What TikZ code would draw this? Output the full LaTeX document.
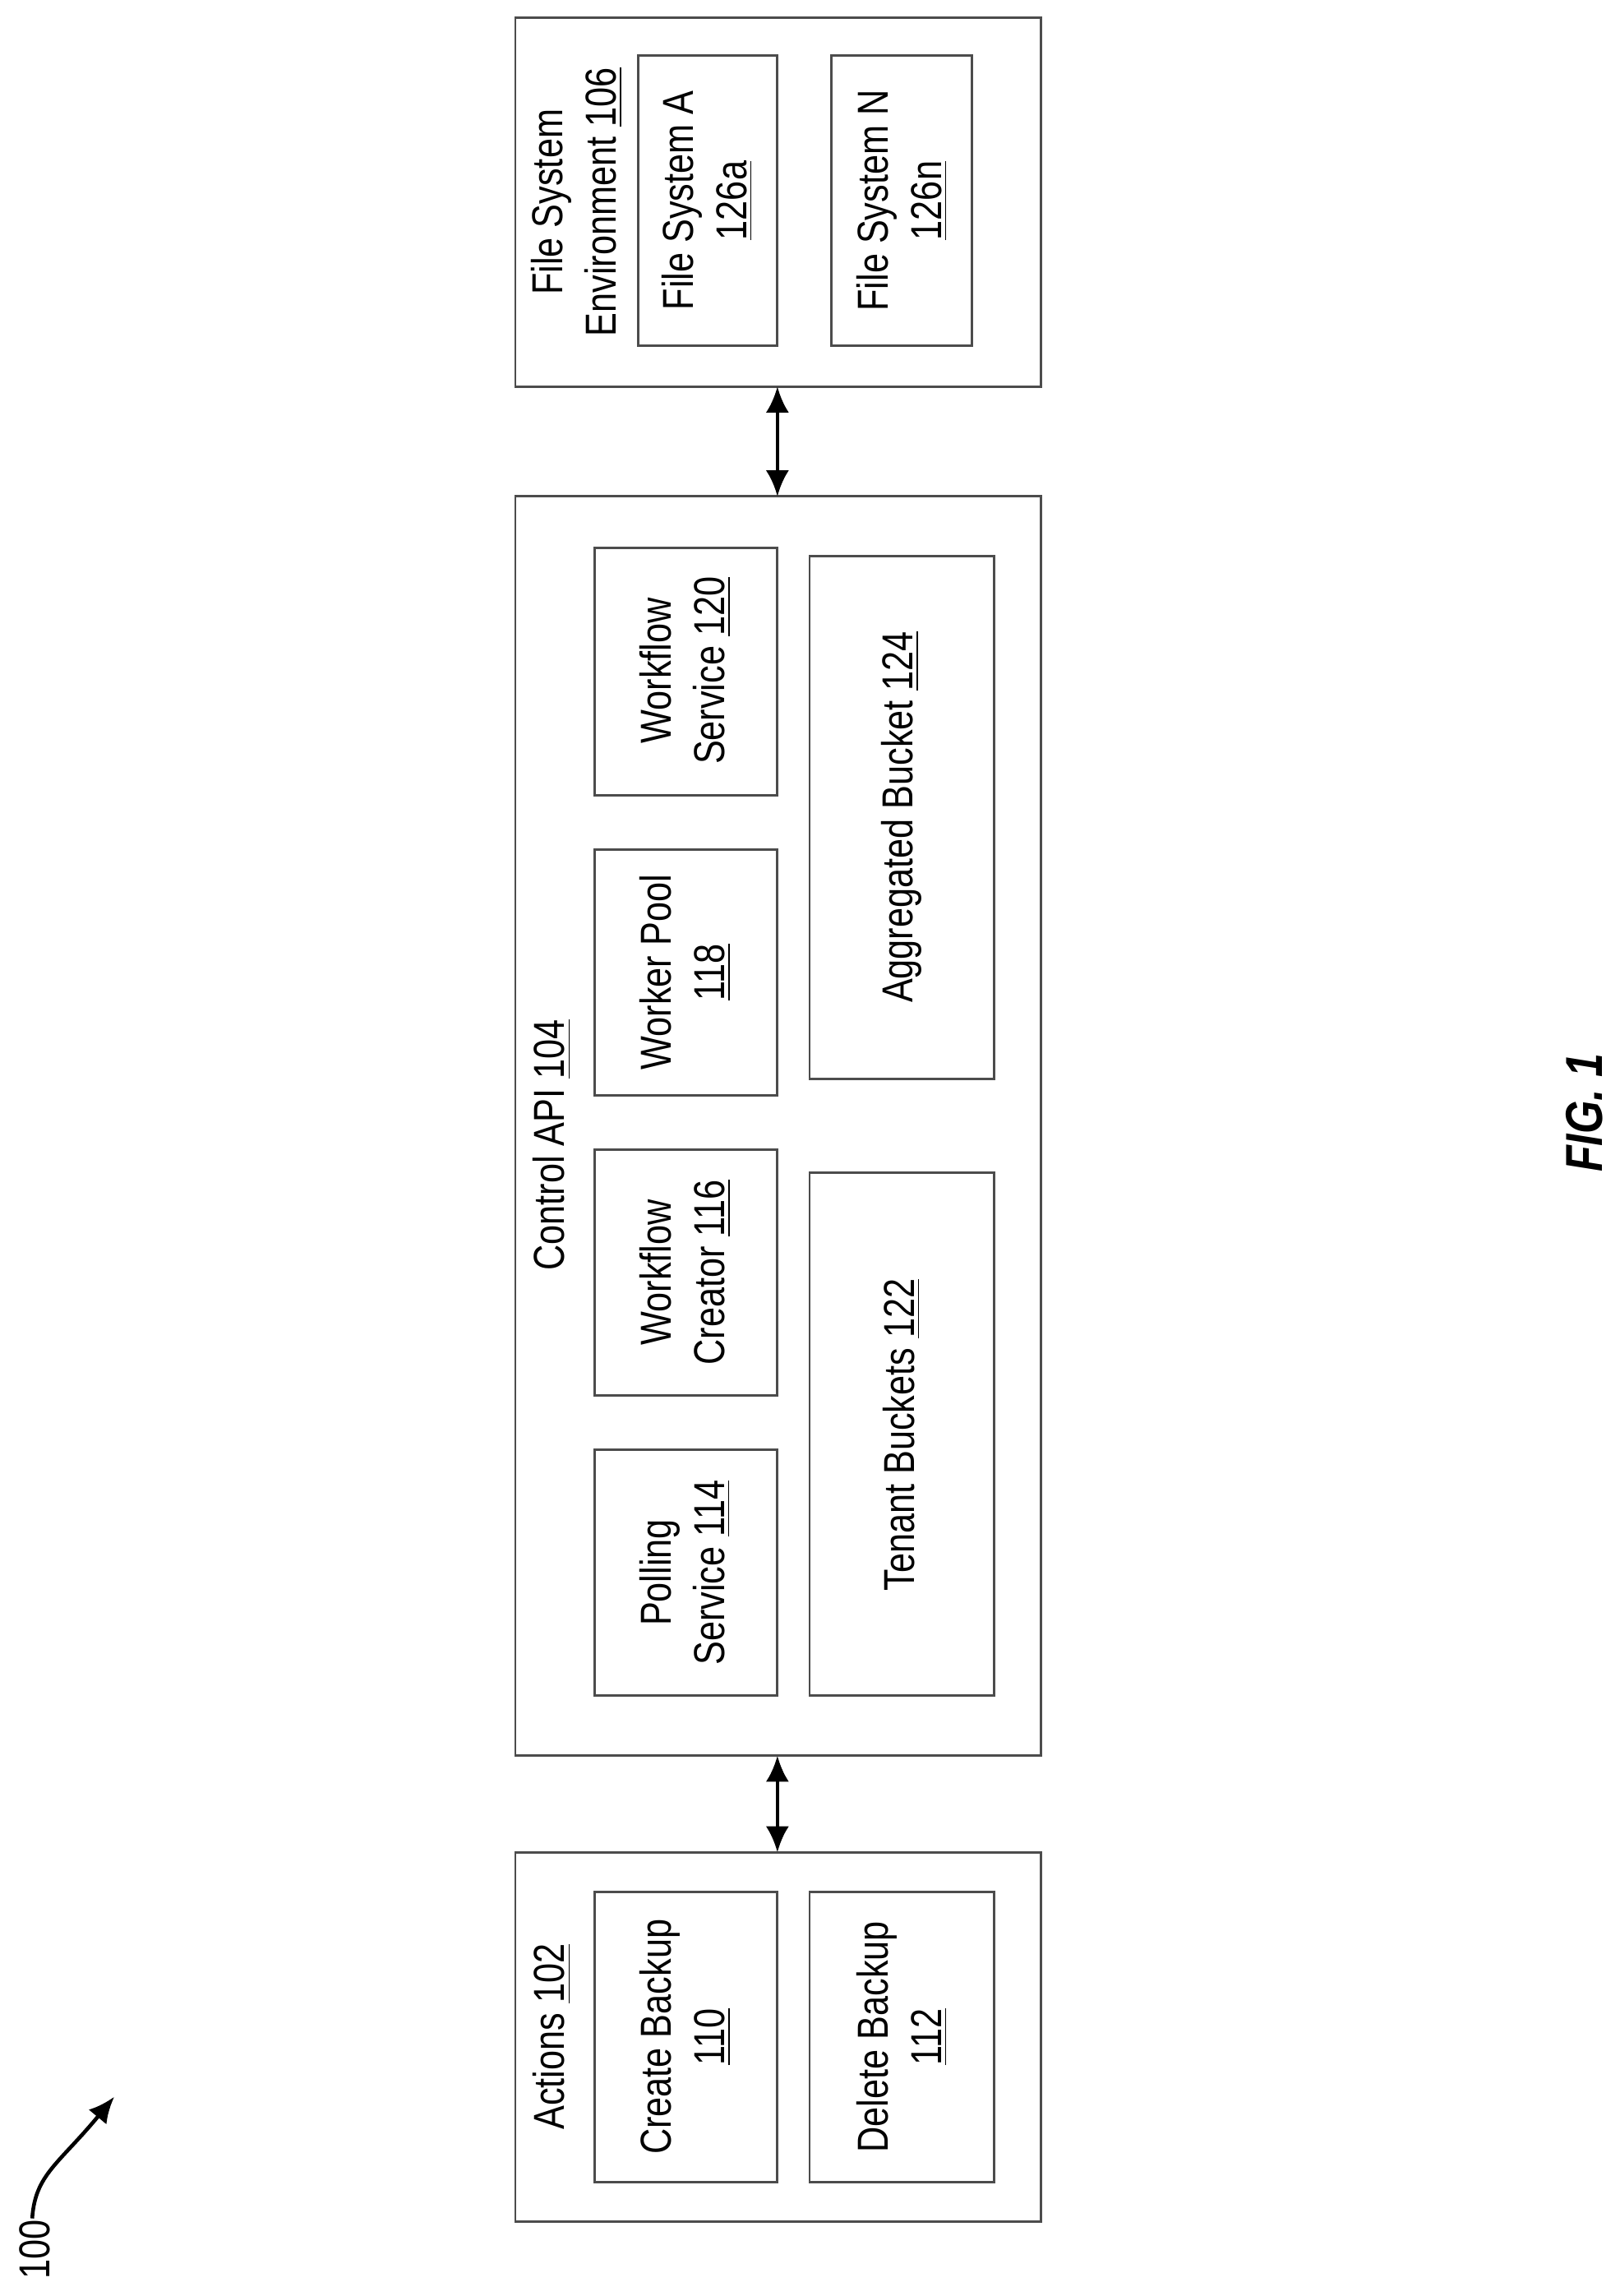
\documentclass[tikz,border=0pt]{standalone}
\usepackage{fontspec}
\setmainfont[FakeStretch=0.82]{Liberation Sans}
\usetikzlibrary{arrows.meta}
\begin{document}
\begin{tikzpicture}[x=0.017812cm,y=-0.017812cm,
  bx/.style={draw=black!70,line width=0.8pt},
  lbl/.style={rotate=90,font=\fontsize{15}{18.5}\selectfont,align=center,inner sep=0},
  arr/.style={<->,>={Latex[length=9pt,width=8pt]},line width=1.3pt}]
\useasboundingbox (0,0) rectangle (1106,1568);
% Actions
\draw[bx] (352,1265) rectangle (711,1517);
\node[lbl] (act) at (377,1391) {Actions \underline{102}};
\draw[bx] (406,1292) rectangle (531,1490);
\node[lbl] (cb) at (468,1391) {Create Backup\\\underline{110}};
\draw[bx] (553,1292) rectangle (679,1490);
\node[lbl] (db) at (616,1391) {Delete Backup\\\underline{112}};
% Control API
\draw[bx] (352,339) rectangle (711,1199);
\node[lbl] (capi) at (377,782) {Control API \underline{104}};
\draw[bx] (406,990) rectangle (531,1158);
\node[lbl] (ps) at (468,1074) {Polling\\Service \underline{114}};
\draw[bx] (406,785) rectangle (531,953);
\node[lbl] (wc) at (468,869) {Workflow\\Creator \underline{116}};
\draw[bx] (406,580) rectangle (531,748);
\node[lbl] (wp) at (468,664) {Worker Pool\\\underline{118}};
\draw[bx] (406,374) rectangle (531,543);
\node[lbl] (ws) at (468,458) {Workflow\\Service \underline{120}};
\draw[bx] (553,801) rectangle (679,1158);
\node[lbl] (tb) at (616,980) {Tenant Buckets \underline{122}};
\draw[bx] (553,380) rectangle (679,737);
\node[lbl] (ab) at (616,558) {Aggregated Bucket \underline{124}};
% File system env
\draw[bx] (352,12) rectangle (711,264);
\node[lbl] (fse) at (394,138) {File System\\Environment \underline{106}};
\draw[bx] (436,38) rectangle (531,236);
\node[lbl] (fsa) at (483,137) {File System A\\\underline{126a}};
\draw[bx] (568,38) rectangle (664,236);
\node[lbl] (fsn) at (616,137) {File System N\\\underline{126n}};
% arrows
\coordinate (a1) at (531,1199); \coordinate (a2) at (531,1265);
\coordinate (b1) at (531,264); \coordinate (b2) at (531,339);
\draw[arr] (a1) -- (a2);
\draw[arr] (b1) -- (b2);
% 100
\node[lbl] (hund) at (24,1536) {100};
\coordinate (c1) at (22,1515); \coordinate (c2) at (78,1432);
\draw[line width=1.3pt,-{Latex[length=9pt,width=8pt]}] (c1) .. controls (24,1485) and (40,1478) .. (c2);
\node[lbl,font=\fontsize{18}{22}\selectfont\bfseries\itshape] (fig) at (1082,760) {FIG. 1};
\end{tikzpicture}
\end{document}
